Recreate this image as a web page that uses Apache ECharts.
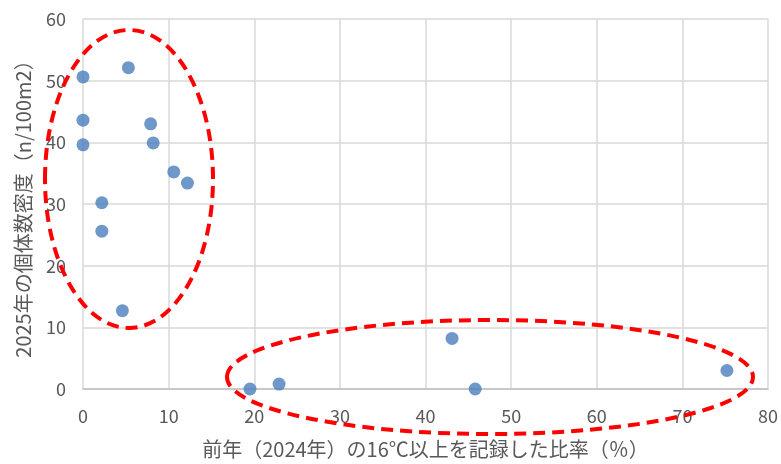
<!DOCTYPE html>
<html><head><meta charset="utf-8">
<script src="https://cdn.jsdelivr.net/npm/echarts@6/dist/echarts.min.js"></script>
<style>html,body{margin:0;padding:0;background:#fff}#c{width:781px;height:464px}</style>
</head><body><div id="c"></div>
<script>
const xValues = [0, 0, 0, 5.3, 7.9, 8.2, 10.6, 12.2, 2.2, 2.2, 4.6, 19.5, 22.9, 43.1, 45.8, 75.2];
const yValues = [50.6, 43.6, 39.6, 52.1, 43.0, 39.9, 35.2, 33.4, 30.2, 25.6, 12.7, 0, 0.8, 8.2, 0, 3.0];
const xTitle = '前年（2024年）の16℃以上を記録した比率（％）';
const yTitle = '2025年の個体数密度（n/100m2）';
const pts = xValues.map((x, i) => [x, yValues[i]]);
const font = '"Noto Sans CJK JP", "Noto Sans", sans-serif';
const chart = echarts.init(document.getElementById('c'), null, {renderer: 'canvas'});
chart.setOption({
  animation: false,
  backgroundColor: '#fff',
  grid: {left: 83, right: 11, top: 19, bottom: 75},
  xAxis: {
    type: 'value', min: 0, max: 80, interval: 10,
    name: xTitle, nameLocation: 'middle', nameGap: 50,
    nameTextStyle: {color: '#595959', fontSize: 20, fontFamily: font},
    axisLine: {show: true, lineStyle: {color: '#bfbfbf', width: 1.5}},
    axisTick: {show: false},
    axisLabel: {color: '#595959', fontSize: 18, fontFamily: font, margin: 18},
    splitLine: {show: true, lineStyle: {color: '#d9d9d9', width: 1.5}}
  },
  yAxis: {
    type: 'value', min: 0, max: 60, interval: 10,
    name: yTitle, nameLocation: 'middle', nameGap: 50,
    nameTextStyle: {color: '#595959', fontSize: 20, fontFamily: font},
    axisLine: {show: false},
    axisTick: {show: false},
    axisLabel: {color: '#595959', fontSize: 18, fontFamily: font, margin: 17},
    splitLine: {show: true, lineStyle: {color: '#d9d9d9', width: 1.5}}
  },
  series: [{
    type: 'scatter', data: pts, symbolSize: 13,
    itemStyle: {color: '#4a7ebb'}
  }],
  graphic: [
    {type: 'ellipse', shape: {cx: 129, cy: 179, rx: 84, ry: 149},
     style: {fill: 'none', stroke: '#ff0000', lineWidth: 4, lineDash: [12, 7]}, z: 10},
    {type: 'ellipse', shape: {cx: 490, cy: 377, rx: 263, ry: 57},
     style: {fill: 'none', stroke: '#ff0000', lineWidth: 4, lineDash: [12, 7]}, z: 10}
  ]
});
</script></body></html>
